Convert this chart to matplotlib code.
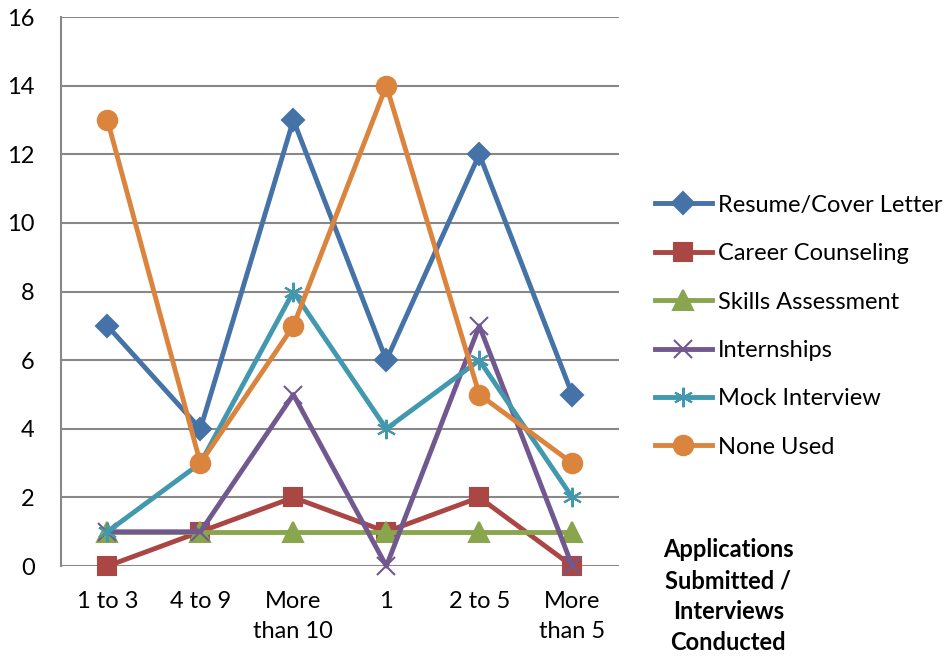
import matplotlib.pyplot as plt

plt.rcParams['font.family'] = ['Lato', 'DejaVu Sans']

categories = ["1 to 3", "4 to 9", "More\nthan 10", "1", "2 to 5", "More\nthan 5"]
resume = [7, 4, 13, 6, 12, 5]
counseling = [0, 1, 2, 1, 2, 0]
skills = [1, 1, 1, 1, 1, 1]
internships = [1, 1, 5, 0, 7, 0]
mock = [1, 3, 8, 4, 6, 2]
none_used = [13, 3, 7, 14, 5, 3]

series = [
    ("Resume/Cover Letter", resume, "#4572A7", "D", 11),
    ("Career Counseling", counseling, "#AA4643", "s", 13),
    ("Skills Assessment", skills, "#89A54E", "^", 14),
    ("Internships", internships, "#71588F", "x", 13),
    ("Mock Interview", mock, "#4198AF", (6, 2, 0), 14),
    ("None Used", none_used, "#DB843D", "o", 14),
]

fs = 17
fig = plt.figure(figsize=(9.52, 6.59), dpi=100)
ax = fig.add_axes([0.064, 0.141, 0.586, 0.833])

x = list(range(len(categories)))
for name, vals, color, marker, ms in series:
    ax.plot(x, vals, color=color, lw=3.5, marker=marker, markersize=ms,
            markeredgewidth=1.5, label=name, clip_on=False, zorder=3)

ax.set_xlim(-0.5, 5.5)
ax.set_ylim(0, 16)
ax.set_yticks(range(0, 17, 2))
ax.set_xticks(x)
ax.set_xticklabels(categories, fontsize=fs, linespacing=1.55)
ax.tick_params(axis='both', length=0, labelsize=fs, colors='black')
ax.tick_params(axis='x', pad=18)
ax.tick_params(axis='y', pad=19)
ax.grid(axis='y', color='#888888', lw=1.5)
ax.set_axisbelow(True)
for s in ['top', 'right', 'bottom']:
    ax.spines[s].set_visible(False)
ax.spines['left'].set_color('#888888')
ax.spines['left'].set_linewidth(1.5)

fig.legend(loc='center left', bbox_to_anchor=(0.688, 0.505), frameon=False,
           fontsize=fs, handlelength=2.4, handletextpad=0.25,
           labelspacing=1.16, borderaxespad=0, borderpad=0)

fig.text(0.765, 0.095, "Applications\nSubmitted /\nInterviews\nConducted",
         ha='center', va='center', fontsize=fs, fontweight='bold',
         linespacing=1.42)

fig.savefig("out.png", dpi=100)
